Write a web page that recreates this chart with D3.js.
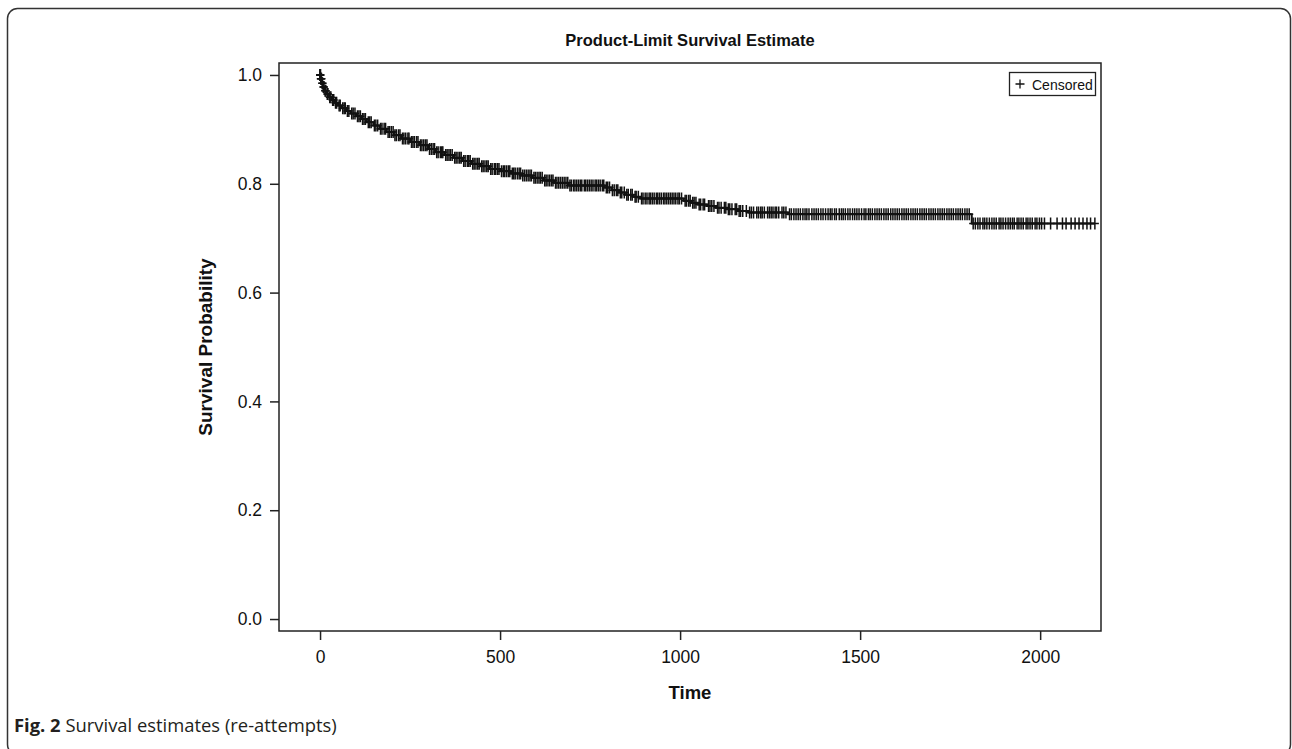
<!DOCTYPE html>
<html>
<head>
<meta charset="utf-8">
<script src="https://cdn.jsdelivr.net/npm/d3@7"></script>
<style>
  body { margin: 0; background: #fff; }
  svg { display: block; }
</style>
</head>
<body>
<div id="chart"></div>
<script>
// event times and the survival estimate right after each one
const eventTimes = [0, 2, 5, 8, 12, 18, 25, 32, 40, 50, 60, 72, 85, 100, 115, 130, 148, 165, 185,
  205, 225, 250, 275, 300, 320, 345, 370, 395, 420, 445, 470, 500, 530, 560, 590, 620, 650, 690,
  790, 810, 830, 850, 870, 890, 1010, 1030, 1050, 1075, 1100, 1130, 1160, 1190, 1300, 1810];
const survival = [1.0, 0.993, 0.985, 0.978, 0.971, 0.965, 0.959, 0.954, 0.949, 0.944, 0.939, 0.934,
  0.929, 0.924, 0.919, 0.913, 0.907, 0.901, 0.895, 0.889, 0.883, 0.877, 0.871, 0.864, 0.858, 0.853,
  0.848, 0.842, 0.837, 0.832, 0.827, 0.823, 0.819, 0.815, 0.811, 0.806, 0.802, 0.797, 0.793, 0.788,
  0.784, 0.780, 0.776, 0.773, 0.769, 0.765, 0.762, 0.759, 0.756, 0.753, 0.750, 0.747, 0.744, 0.727];

// censored observation times
const censorTimes = [0, 0, 1, 1, 2, 3, 4, 6, 7, 9, 11, 14, 16, 20, 22, 27, 30, 35, 38, 43, 46, 53, 56,
  63, 67, 70, 76, 80, 88, 92, 97, 104, 108, 112, 118, 122, 126, 134, 138, 142, 151, 155, 160, 168, 172,
  178, 182, 189, 193, 198, 203, 208, 212, 218, 222, 229, 233, 238, 244, 247, 254, 258, 262, 268, 272,
  279, 283, 288, 293, 297, 304, 309, 314, 318, 324, 328, 334, 338, 341, 349, 353, 358, 362, 367, 374,
  378, 383, 388, 392, 399, 403, 409, 413, 417, 424, 428, 433, 438, 442, 449, 453, 458, 463, 467, 474,
  478, 484, 488, 493, 497, 504, 509, 513, 518, 523, 527, 534, 538, 542, 548, 553, 557, 563, 568, 573,
  578, 583, 587, 594, 598, 603, 608, 612, 617, 624, 628, 633, 638, 643, 647, 654, 658, 663, 668, 673,
  678, 683, 688, 694, 698, 704, 708, 713, 718, 723, 727, 734, 738, 743, 748, 753, 758, 764, 768, 773,
  778, 784, 788, 795, 799, 804, 812, 817, 823, 827, 834, 838, 845, 852, 856, 863, 867, 875, 878, 884,
  893, 897, 903, 908, 914, 918, 923, 928, 934, 938, 943, 948, 954, 958, 963, 968, 973, 978, 983, 988,
  994, 998, 1004, 1014, 1018, 1024, 1028, 1035, 1039, 1044, 1053, 1057, 1064, 1068, 1079, 1083, 1088,
  1094, 1104, 1108, 1114, 1123, 1127, 1134, 1138, 1144, 1153, 1157, 1164, 1168, 1174, 1184, 1193, 1198,
  1204, 1213, 1218, 1224, 1228, 1234, 1243, 1248, 1253, 1258, 1264, 1268, 1274, 1283, 1288, 1294,
  1304, 1309, 1316, 1322, 1328, 1334, 1341, 1347, 1352, 1358, 1366, 1372, 1378, 1384, 1391, 1397,
  1404, 1411, 1417, 1422, 1429, 1434, 1442, 1448, 1453, 1459, 1466, 1472, 1479, 1485, 1491, 1497,
  1504, 1511, 1516, 1523, 1528, 1534, 1541, 1547, 1553, 1559, 1566, 1572, 1578, 1585, 1591, 1597,
  1603, 1609, 1616, 1622, 1628, 1634, 1641, 1647, 1653, 1659, 1666, 1672, 1678, 1684, 1691, 1697,
  1703, 1709, 1716, 1722, 1728, 1734, 1741, 1747, 1753, 1759, 1766, 1772, 1778, 1784, 1791, 1797,
  1803, 1814, 1820, 1827, 1833, 1841, 1846, 1852, 1859, 1866, 1872, 1878, 1886, 1891, 1897, 1904,
  1911, 1917, 1923, 1928, 1936, 1941, 1947, 1953, 1961, 1966, 1972, 1978, 1986, 1991, 1998, 2004,
  2012, 2029, 2047, 2062, 2072, 2086, 2097, 2108, 2119, 2130, 2140, 2152];

const xTicks = [0, 500, 1000, 1500, 2000];
const yTicks = [0.0, 0.2, 0.4, 0.6, 0.8, 1.0];

const W = 1292, H = 749;
const frame = { left: 279, right: 1101, top: 63, bottom: 631 };
const font = "'Liberation Sans', Arial, sans-serif";

const svg = d3.select("#chart").append("svg")
  .attr("width", W)
  .attr("height", H);

// rounded outer border of the figure
svg.append("rect")
  .attr("x", 7.5).attr("y", 8.5)
  .attr("width", 1283).attr("height", 746)
  .attr("rx", 10)
  .attr("fill", "none")
  .attr("stroke", "#333")
  .attr("stroke-width", 1.5);

const x = d3.scaleLinear().domain([-114, 2169]).range([frame.left, frame.right]);
const y = d3.scaleLinear().domain([-0.022, 1.022]).range([frame.bottom, frame.top]);

// step lookup
function survAt(t) {
  const i = d3.bisectRight(eventTimes, t) - 1;
  return survival[Math.max(0, i)];
}

// axes
const xAxis = svg.append("g")
  .attr("transform", `translate(0,${frame.bottom})`)
  .call(d3.axisBottom(x).tickValues(xTicks).tickSize(9).tickPadding(11).tickFormat(d3.format("d")));
const yAxis = svg.append("g")
  .attr("transform", `translate(${frame.left},0)`)
  .call(d3.axisLeft(y).tickValues(yTicks).tickSize(9).tickPadding(8).tickFormat(d3.format(".1f")));

[xAxis, yAxis].forEach(g => {
  g.select(".domain").remove();
  g.selectAll(".tick line").attr("stroke", "#222").attr("stroke-width", 1.5);
  g.selectAll(".tick text")
    .attr("fill", "#111")
    .style("font-family", font)
    .style("font-size", "17.5px");
});

// plot frame
svg.append("rect")
  .attr("x", frame.left).attr("y", frame.top)
  .attr("width", frame.right - frame.left)
  .attr("height", frame.bottom - frame.top)
  .attr("fill", "none")
  .attr("stroke", "#222")
  .attr("stroke-width", 1.5);

// survival step line
const endTime = d3.max(censorTimes);
const pts = eventTimes.map((t, i) => [t, survival[i]]);
pts.push([endTime, survival[survival.length - 1]]);

svg.append("path")
  .datum(pts)
  .attr("fill", "none")
  .attr("stroke", "#111")
  .attr("stroke-width", 2)
  .attr("d", d3.line().x(d => x(d[0])).y(d => y(d[1])).curve(d3.curveStepAfter));

// censored marks
const plus = "M-4,0H4M0,-6V6";
svg.append("g")
  .selectAll("path")
  .data(censorTimes)
  .join("path")
  .attr("transform", d => `translate(${x(d)},${y(survAt(d))})`)
  .attr("d", plus)
  .attr("fill", "none")
  .attr("stroke", "#111")
  .attr("stroke-width", 1.5);

// legend
const leg = svg.append("g").attr("transform", "translate(1009,72)");
leg.append("rect")
  .attr("x", 0.5).attr("y", 0.5)
  .attr("width", 86).attr("height", 23)
  .attr("fill", "#fff")
  .attr("stroke", "#222")
  .attr("stroke-width", 1.3);
leg.append("path")
  .attr("transform", "translate(11,12)")
  .attr("d", "M-4.5,0H4.5M0,-4.5V4.5")
  .attr("stroke", "#111")
  .attr("stroke-width", 1.3);
leg.append("text")
  .attr("x", 23).attr("y", 17.5)
  .style("font-family", font)
  .style("font-size", "14px")
  .attr("fill", "#111")
  .text("Censored");

// titles
svg.append("text")
  .attr("x", (frame.left + frame.right) / 2)
  .attr("y", 46)
  .attr("text-anchor", "middle")
  .style("font-family", font)
  .style("font-weight", "bold")
  .style("font-size", "16.5px")
  .attr("fill", "#111")
  .text("Product-Limit Survival Estimate");

svg.append("text")
  .attr("x", (frame.left + frame.right) / 2)
  .attr("y", 699)
  .attr("text-anchor", "middle")
  .style("font-family", font)
  .style("font-weight", "bold")
  .style("font-size", "18.5px")
  .attr("fill", "#111")
  .text("Time");

svg.append("text")
  .attr("transform", `translate(212,${(frame.top + frame.bottom) / 2}) rotate(-90)`)
  .attr("text-anchor", "middle")
  .style("font-family", font)
  .style("font-weight", "bold")
  .style("font-size", "19px")
  .attr("fill", "#111")
  .text("Survival Probability");

// figure caption
const cap = svg.append("text")
  .attr("x", 14)
  .attr("y", 732)
  .style("font-family", "'Open Sans', 'Noto Sans', sans-serif")
  .style("font-size", "18.4px")
  .attr("fill", "#231f20");
cap.append("tspan").style("font-weight", "bold").text("Fig. 2");
cap.append("tspan").text(" Survival estimates (re-attempts)");
</script>
</body>
</html>
